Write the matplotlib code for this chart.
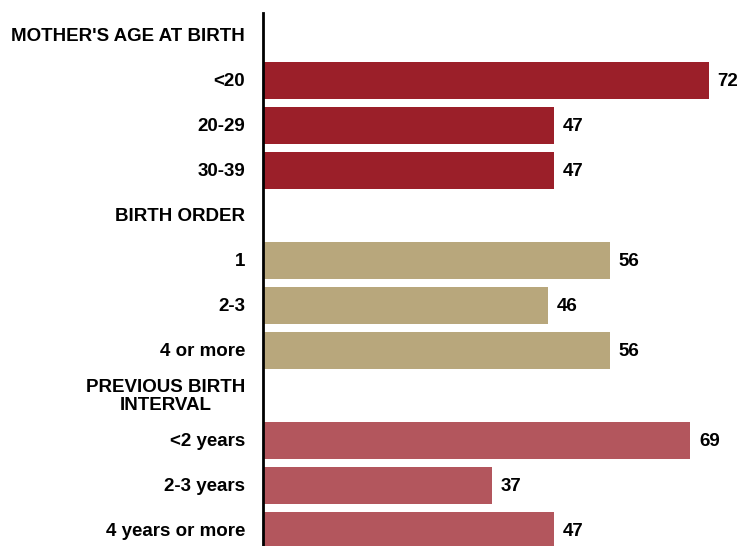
import matplotlib.pyplot as plt

plt.rcParams['font.family'] = ['Liberation Sans', 'DejaVu Sans']

# rows top to bottom; None = group heading
labels = ["MOTHER'S AGE AT BIRTH", "<20", "20-29", "30-39",
          "BIRTH ORDER", "1", "2-3", "4 or more",
          "PREVIOUS BIRTH\nINTERVAL", "<2 years", "2-3 years", "4 years or more"]
values = [None, 72, 47, 47,
          None, 56, 46, 56,
          None, 69, 37, 47]
groups = [0, 0, 0, 0, 1, 1, 1, 1, 2, 2, 2, 2]
group_colors = ["#9B1F29", "#B8A77C", "#B3565D"]

fig = plt.figure(figsize=(7.42, 5.46), dpi=100)
ax = fig.add_axes([263 / 742, 0, 1 - 263 / 742, 1 - 13 / 546])

for i, (lab, val, g) in enumerate(zip(labels, values, groups)):
    if val is not None:
        ax.barh(i, val, height=37 / 45, color=group_colors[g])
        ax.text(val + 1.45, i + 0.03, str(val), va='center', ha='left',
                fontsize=13.5, fontweight='bold')
    ax.text(-2.9, i + 0.03, lab, va='center', ha='right', fontsize=13.5,
            fontweight='bold', linespacing=1.1,
            multialignment='center' if '\n' in lab else 'right')

ax.set_xlim(0, (742 - 263) / 6.19)
ax.set_ylim((546 - 35.5) / 45, -0.5)
for s in ['top', 'right', 'bottom']:
    ax.spines[s].set_visible(False)
ax.spines['left'].set_linewidth(2)
ax.set_xticks([])
ax.set_yticks([])

fig.savefig("out.png", dpi=100)
